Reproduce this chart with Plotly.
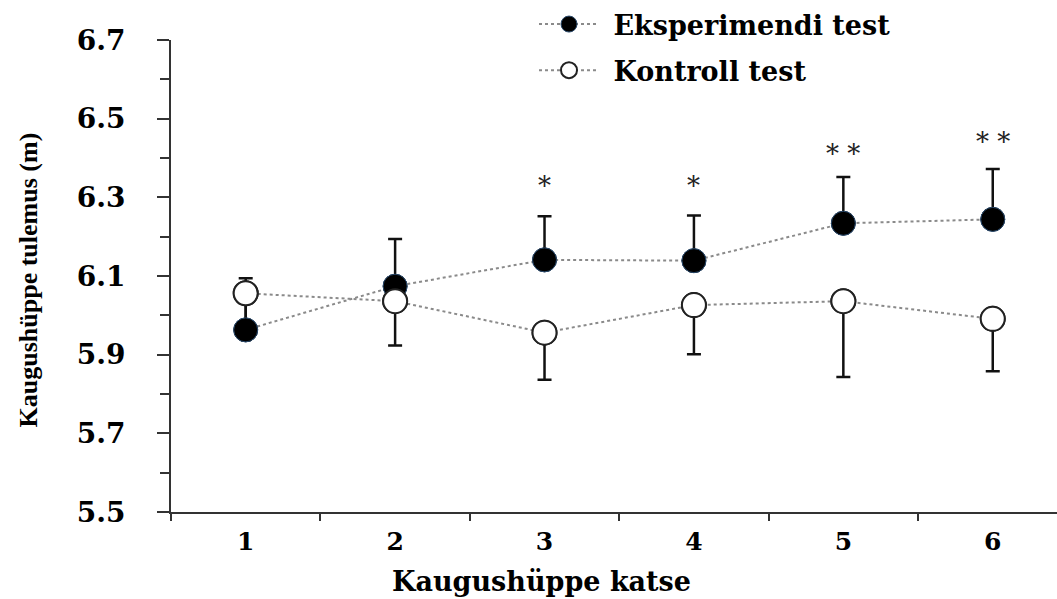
import plotly.graph_objects as go

trials = ["1", "2", "3", "4", "5", "6"]
exp_mean = [5.963, 6.074, 6.141, 6.139, 6.234, 6.244]
exp_sd = [0.131, 0.120, 0.111, 0.115, 0.118, 0.128]
ctl_mean = [6.056, 6.036, 5.956, 6.026, 6.036, 5.991]
ctl_sd = [0.090, 0.113, 0.120, 0.125, 0.193, 0.133]
sig_labels = ["", "", "*", "*", "* *", "* *"]
sig_y = [None, None, 6.33, 6.33, 6.41, 6.44]

FONT = "DejaVu Serif"
fig = go.Figure()

# legend / line traces
fig.add_trace(go.Scatter(
    x=trials, y=exp_mean, mode="lines+markers", name="\u00a0Eksperimendi test",
    legendgroup="a",
    line=dict(color="#8a8a8a", width=2, dash="dot"),
    marker=dict(symbol="circle", size=24, color="black", line=dict(color="#2b4a6b", width=1)),
))
fig.add_trace(go.Scatter(
    x=trials, y=ctl_mean, mode="lines+markers", name="\u00a0Kontroll test",
    legendgroup="b",
    line=dict(color="#8a8a8a", width=2, dash="dot"),
    marker=dict(symbol="circle", size=24, color="white", line=dict(color="#222", width=2)),
))
# error bars
fig.add_trace(go.Scatter(
    x=trials, y=exp_mean, mode="markers", showlegend=False,
    marker=dict(size=1, color="rgba(0,0,0,0)"),
    error_y=dict(type="data", array=exp_sd, arrayminus=[0] * 6, symmetric=False,
                 color="#111", thickness=2.5, width=7),
))
fig.add_trace(go.Scatter(
    x=trials, y=ctl_mean, mode="markers", showlegend=False,
    marker=dict(size=1, color="rgba(0,0,0,0)"),
    error_y=dict(type="data", array=[0] * 6, arrayminus=ctl_sd, symmetric=False,
                 color="#111", thickness=2.5, width=7),
))
# markers on top
fig.add_trace(go.Scatter(
    x=trials, y=exp_mean, mode="markers", showlegend=False,
    marker=dict(symbol="circle", size=24, color="black", line=dict(color="#2b4a6b", width=1)),
))
fig.add_trace(go.Scatter(
    x=trials, y=ctl_mean, mode="markers", showlegend=False,
    marker=dict(symbol="circle", size=24, color="white", line=dict(color="#222", width=2)),
))

for i, (lab, yy) in enumerate(zip(sig_labels, sig_y)):
    if lab:
        fig.add_annotation(x=i, y=yy, text=lab, showarrow=False, xref="x", yref="y",
                           font=dict(family=FONT, size=26, color="#222"),
                           xanchor="center", yanchor="middle")

fig.add_annotation(x=(28 - 171) / 886, y=(512 - 277) / 479, xref="paper", yref="paper",
                   text="Kaugushüppe tulemus (m)", textangle=-90, showarrow=False,
                   font=dict(family="Liberation Serif", size=26, color="black", weight="bold"),
                   xanchor="center", yanchor="middle")
fig.add_annotation(x=(541 - 171) / 886, y=(512 - 583) / 479, xref="paper", yref="paper",
                   text="Kaugushüppe katse", showarrow=False,
                   font=dict(family=FONT, size=27, color="black", weight="bold"),
                   xanchor="center", yanchor="middle")

fig.update_layout(
    width=1057, height=599,
    margin=dict(l=171, r=0, t=33, b=87),
    paper_bgcolor="white", plot_bgcolor="white",
    showlegend=True,
    legend=dict(x=(534 - 171) / 886, y=(512 + 8) / 479, xanchor="left", yanchor="top",
                font=dict(family=FONT, size=27, color="black", weight="bold"),
                bgcolor="rgba(0,0,0,0)", tracegroupgap=8, itemwidth=60),
    xaxis=dict(type="category", range=[-0.5, 5.43], tickson="boundaries",
               showline=True, linecolor="#333", linewidth=2, ticks="outside", ticklen=7,
               tickcolor="#333", tickwidth=2, showgrid=False, zeroline=False,
               tickfont=dict(family=FONT, size=25, color="black", weight="bold"),
               ticklabelstandoff=6),
    yaxis=dict(range=[5.5, 6.7], tick0=5.5, dtick=0.2, tickformat=".1f",
               showline=True, linecolor="#333", linewidth=2, ticks="outside", ticklen=12,
               tickcolor="#333", tickwidth=2, showgrid=False, zeroline=False,
               minor=dict(dtick=0.1, tick0=5.5, ticks="outside", ticklen=9,
                          tickcolor="#333", tickwidth=2, showgrid=False),
               tickfont=dict(family=FONT, size=28, color="black", weight="bold"),
               ticklabelstandoff=26),
)

fig.write_html("out.html", config={"displayModeBar": False},
               post_script="document.body.style.margin='0px';document.body.style.overflow='hidden';")
